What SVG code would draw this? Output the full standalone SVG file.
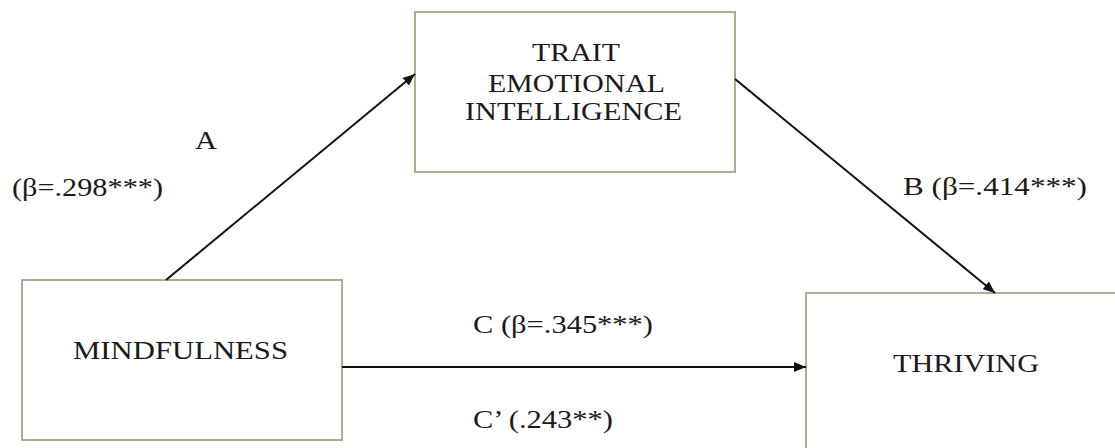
<svg xmlns="http://www.w3.org/2000/svg" width="1115" height="448" viewBox="0 0 1115 448">
<style>
.box{fill:#ffffff;stroke:#a3b093;stroke-width:2}
.t{font-family:"Liberation Serif","Times New Roman",serif;font-size:25px;fill:#1a1a1a}
.c{stroke:#111;stroke-width:2;fill:none;marker-end:url(#ah)}
</style>
<defs>
<marker id="ah" viewBox="0 0 12 10" refX="12" refY="5" markerWidth="12" markerHeight="10" markerUnits="userSpaceOnUse" orient="auto">
<path d="M0,0 L12,5 L0,10 Z" fill="#111"/>
</marker>
</defs>
<rect width="1115" height="448" fill="#ffffff"/>
<g id="node-tei">
<rect class="box" x="415" y="12" width="320" height="160"/>
<text class="t" x="532" y="61" textLength="88" lengthAdjust="spacingAndGlyphs">TRAIT</text>
<text class="t" x="488" y="92" textLength="177" lengthAdjust="spacingAndGlyphs">EMOTIONAL</text>
<text class="t" x="465" y="120" textLength="217" lengthAdjust="spacingAndGlyphs">INTELLIGENCE</text>
</g>
<g id="node-mindfulness">
<rect class="box" x="22" y="280" width="320" height="160"/>
<text class="t" x="73" y="359" textLength="215" lengthAdjust="spacingAndGlyphs">MINDFULNESS</text>
</g>
<g id="node-thriving">
<rect class="box" x="806" y="293" width="330" height="180"/>
<text class="t" x="893" y="372" textLength="146" lengthAdjust="spacingAndGlyphs">THRIVING</text>
</g>
<g id="connectors">
<line class="c" x1="166" y1="280" x2="415" y2="74"/>
<line class="c" x1="735" y1="79" x2="995" y2="293"/>
<line class="c" x1="342" y1="367" x2="806" y2="367"/>
</g>
<g id="labels">
<text class="t" x="195" y="149" textLength="22" lengthAdjust="spacingAndGlyphs">A</text>
<text class="t" x="12" y="196" textLength="151" lengthAdjust="spacingAndGlyphs">(β=.298***)</text>
<text class="t" x="903" y="195" textLength="184" lengthAdjust="spacingAndGlyphs">B (β=.414***)</text>
<text class="t" x="473" y="333" textLength="180" lengthAdjust="spacingAndGlyphs">C (β=.345***)</text>
<text class="t" x="473" y="428" textLength="140" lengthAdjust="spacingAndGlyphs">C’ (.243**)</text>
</g>
</svg>
